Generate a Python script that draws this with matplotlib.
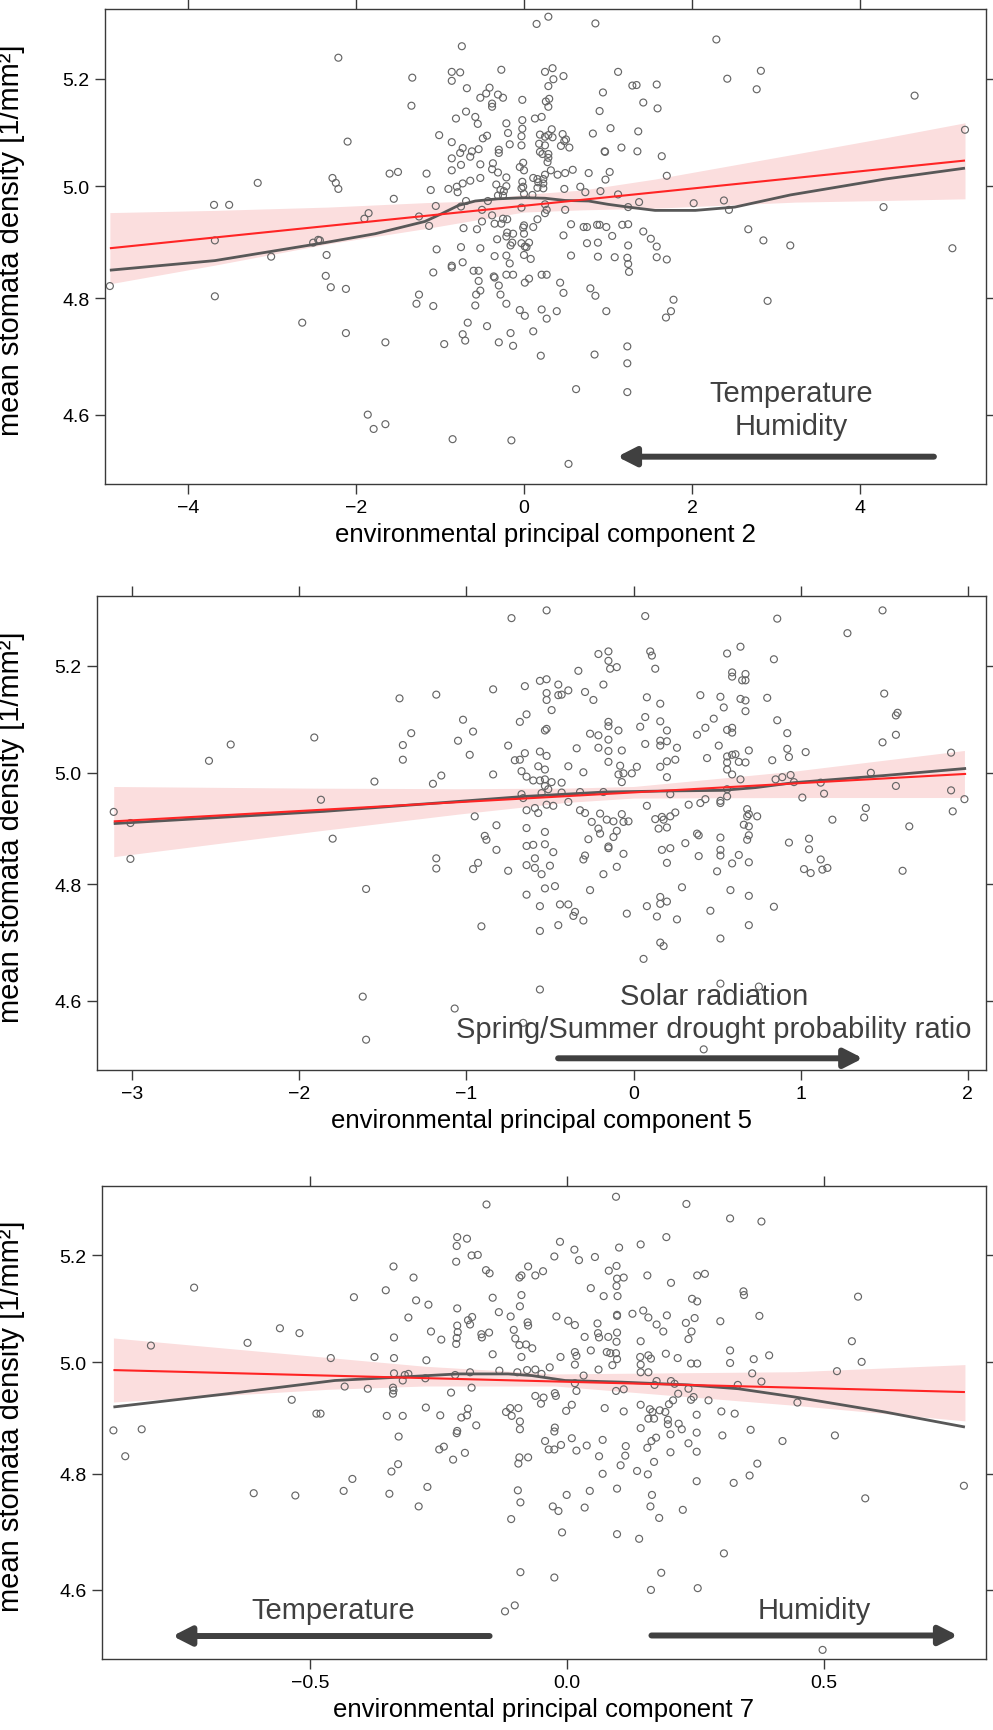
import numpy as np
import matplotlib
matplotlib.use("Agg")
import matplotlib.pyplot as plt
from matplotlib.ticker import FixedLocator, FixedFormatter, NullLocator

plt.rcParams['font.family'] = ['Liberation Sans', 'DejaVu Sans']

# ---------------------------------------------------------------- data
# environmental PC 2 : (score, mean stomata density)
pc2_points = [
    (-4.93, 4.821), (-3.69, 4.966), (-3.51, 4.966), (-3.68, 4.902), (-3.68, 4.803),
    (-3.17, 5.006), (-3.01, 4.873), (-2.64, 4.757), (-2.51, 4.898), (-2.45, 4.903),
    (-2.43, 4.902), (-2.35, 4.876), (-2.36, 4.839), (-2.30, 4.819), (-2.21, 5.240),
    (-2.10, 5.082), (-2.28, 5.015), (-2.24, 5.006), (-2.21, 4.995), (-2.12, 4.816),
    (-2.12, 4.739), (-1.90, 4.941), (-1.85, 4.951), (-1.65, 4.723), (-1.86, 4.600),
    (-1.79, 4.576), (-1.65, 4.584), (-1.60, 5.023), (-1.50, 5.026), (-1.55, 4.977),
    (-1.33, 5.202), (-1.34, 5.149), (-1.16, 5.023), (-1.11, 4.993), (-1.25, 4.945),
    (-1.13, 4.928), (-1.05, 4.964), (-1.04, 4.886), (-1.08, 4.845), (-1.25, 4.806),
    (-1.28, 4.790), (-1.08, 4.786), (-0.95, 4.720), (-1.01, 5.094), (-0.86, 5.213),
    (-0.86, 5.196), (-0.76, 5.212), (-0.74, 5.262), (-0.68, 5.182), (-0.81, 5.125),
    (-0.69, 5.138), (-0.86, 5.081), (-0.76, 5.061), (-0.73, 5.070), (-0.86, 5.051),
    (-0.75, 5.039), (-0.86, 5.029), (-0.90, 4.995), (-0.80, 4.999), (-0.79, 4.989),
    (-0.73, 5.005), (-0.64, 5.010), (-0.69, 4.973), (-0.75, 4.963), (-0.72, 4.924),
    (-0.75, 4.890), (-0.73, 4.863), (-0.86, 4.857), (-0.86, 4.854), (-0.67, 4.757),
    (-0.73, 4.737), (-0.70, 4.726), (-0.85, 4.559), (-0.58, 5.128), (-0.55, 5.115),
    (-0.62, 5.064), (-0.64, 5.054), (-0.54, 5.068), (-0.52, 5.164), (-0.45, 5.172),
    (-0.41, 5.183), (-0.38, 5.153), (-0.38, 5.147), (-0.31, 5.170), (-0.25, 5.164),
    (-0.27, 5.217), (-0.49, 5.088), (-0.44, 5.093), (-0.52, 5.040), (-0.52, 5.015),
    (-0.37, 5.042), (-0.38, 5.031), (-0.31, 5.025), (-0.30, 5.067), (-0.30, 5.061),
    (-0.33, 5.003), (-0.28, 4.993), (-0.21, 5.016), (-0.21, 5.000), (-0.31, 4.983),
    (-0.25, 4.983), (-0.24, 4.991), (-0.43, 4.973), (-0.50, 4.957), (-0.38, 4.947),
    (-0.50, 4.936), (-0.56, 4.922), (-0.35, 4.932), (-0.27, 4.932), (-0.25, 4.941),
    (-0.20, 4.940), (-0.52, 4.888), (-0.32, 4.904), (-0.35, 4.874), (-0.20, 4.916),
    (-0.21, 4.909), (-0.16, 4.893), (-0.14, 4.898), (-0.13, 4.914), (-0.21, 4.875),
    (-0.17, 4.861), (-0.60, 4.848), (-0.54, 4.848), (-0.54, 4.830), (-0.52, 4.813),
    (-0.57, 4.806), (-0.58, 4.787), (-0.36, 4.838), (-0.35, 4.836), (-0.30, 4.822),
    (-0.28, 4.806), (-0.21, 4.841), (-0.13, 4.841), (-0.21, 4.790), (-0.44, 4.751),
    (-0.30, 4.723), (-0.16, 4.739), (-0.13, 4.717), (-0.15, 4.557), (-0.21, 5.116),
    (-0.19, 5.098), (-0.17, 5.077), (-0.02, 5.160), (-0.02, 5.122), (-0.02, 5.106),
    (-0.03, 5.092), (-0.03, 5.075), (-0.01, 5.043), (0.00, 5.029), (-0.05, 5.035),
    (-0.02, 5.008), (-0.01, 4.999), (-0.03, 4.996), (0.00, 4.986), (-0.03, 4.961),
    (0.00, 4.929), (-0.01, 4.925), (0.00, 4.914), (-0.03, 4.897), (0.01, 4.891),
    (0.03, 4.890), (0.06, 4.898), (0.00, 4.876), (0.08, 4.869), (0.01, 4.827),
    (0.06, 4.834), (-0.05, 4.779), (0.01, 4.769), (0.11, 4.742), (0.11, 4.926),
    (0.16, 4.940), (0.15, 5.305), (0.29, 5.319), (0.13, 5.125), (0.21, 5.128),
    (0.19, 5.095), (0.25, 5.091), (0.29, 5.094), (0.33, 5.105), (0.34, 5.090),
    (0.18, 5.078), (0.25, 5.075), (0.19, 5.063), (0.29, 5.059), (0.29, 5.052),
    (0.22, 5.059), (0.28, 5.044), (0.25, 5.213), (0.34, 5.220), (0.35, 5.199),
    (0.29, 5.186), (0.30, 5.162), (0.26, 5.157), (0.29, 5.147), (0.32, 5.029),
    (0.40, 5.021), (0.25, 5.021), (0.23, 5.013), (0.16, 5.013), (0.11, 5.015),
    (0.17, 5.007), (0.23, 5.005), (0.16, 4.997), (0.23, 4.996), (0.10, 4.984),
    (0.25, 4.967), (0.27, 4.957), (0.25, 4.951), (0.44, 5.074), (0.46, 5.096),
    (0.48, 5.083), (0.47, 5.205), (0.48, 4.995), (0.47, 4.911), (0.47, 4.809),
    (0.49, 4.957), (0.43, 4.827), (0.21, 4.841), (0.27, 4.841), (0.21, 4.780),
    (0.27, 4.764), (0.39, 4.777), (0.20, 4.700),
    (0.85, 5.306), (1.12, 5.213), (0.94, 5.174), (1.29, 5.187), (1.34, 5.188),
    (1.58, 5.189), (1.42, 5.155), (1.59, 5.144), (0.90, 5.139), (1.03, 5.107),
    (0.82, 5.097), (0.54, 5.071), (0.50, 5.086), (0.96, 5.064), (0.965, 5.063),
    (1.16, 5.071), (1.36, 5.101), (1.35, 5.064), (1.64, 5.055), (1.70, 5.019),
    (0.49, 5.024), (0.58, 5.030), (0.77, 5.024), (1.02, 5.026), (0.97, 5.012),
    (0.67, 4.999), (0.73, 4.989), (0.91, 4.991), (1.12, 4.985), (1.24, 4.962),
    (1.37, 4.971), (2.02, 4.969), (2.38, 4.974), (2.44, 4.957), (0.56, 4.931),
    (0.71, 4.926), (0.75, 4.926), (0.87, 4.930), (0.90, 4.930), (0.98, 4.926),
    (1.17, 4.930), (1.24, 4.931), (0.75, 4.897), (0.88, 4.898), (1.05, 4.910),
    (1.42, 4.918), (1.51, 4.905), (1.58, 4.891), (1.24, 4.893), (0.56, 4.875),
    (0.88, 4.873), (1.08, 4.872), (1.23, 4.871), (1.24, 4.860), (1.25, 4.846),
    (1.58, 4.872), (1.70, 4.868), (0.79, 4.817), (0.85, 4.804), (0.98, 4.777),
    (1.78, 4.797), (1.75, 4.777), (1.69, 4.766), (2.67, 4.922), (2.85, 4.902),
    (3.17, 4.893), (2.90, 4.795), (2.29, 5.275), (2.42, 5.200), (2.82, 5.215),
    (2.77, 5.180), (0.84, 4.702), (1.23, 4.716), (1.23, 4.687), (0.62, 4.643),
    (1.23, 4.638), (0.53, 4.518),
    (4.65, 5.168), (5.25, 5.104), (4.28, 4.962), (5.10, 4.888),
]

# environmental PC 5
pc5_points = [
    (-3.11, 4.929), (-3.01, 4.909), (-3.01, 4.845), (-2.54, 5.022), (-2.41, 5.052),
    (-1.91, 5.065), (-1.87, 4.951), (-1.80, 4.881), (-1.60, 4.792), (-1.62, 4.607),
    (-1.60, 4.535), (-1.55, 4.984), (-1.40, 5.138), (-1.33, 5.073), (-1.38, 5.051),
    (-1.38, 5.024), (-1.18, 5.145), (-1.20, 4.980), (-1.15, 4.995), (-1.18, 4.846),
    (-1.18, 4.828), (-1.07, 4.587), (-1.02, 5.098), (-0.96, 5.076), (-1.05, 5.059),
    (-0.98, 5.033), (-0.84, 5.155), (-0.73, 5.291), (-0.52, 5.306), (-0.84, 4.997),
    (-0.95, 4.921), (-0.82, 4.905), (-0.89, 4.886), (-0.88, 4.879), (-0.82, 4.861),
    (-0.96, 4.827), (-0.93, 4.838), (-0.75, 4.824), (-0.91, 4.727), (-0.75, 5.050),
    (-0.71, 5.023), (-0.68, 5.024), (-0.68, 5.094), (-0.64, 5.108), (-0.65, 5.161),
    (-0.56, 5.171), (-0.52, 5.174), (-0.52, 5.148), (-0.52, 5.135), (-0.49, 5.116),
    (-0.53, 5.078), (-0.52, 5.081), (-0.65, 5.036), (-0.56, 5.039), (-0.52, 5.031),
    (-0.53, 5.006), (-0.57, 5.012), (-0.67, 5.003), (-0.64, 4.993), (-0.60, 4.986),
    (-0.56, 4.986), (-0.53, 4.988), (-0.53, 4.976), (-0.49, 4.983), (-0.51, 4.970),
    (-0.67, 4.961), (-0.66, 4.954), (-0.55, 4.963), (-0.64, 4.932), (-0.59, 4.936),
    (-0.57, 4.927), (-0.52, 4.942), (-0.48, 4.940), (-0.64, 4.900), (-0.53, 4.893),
    (-0.64, 4.868), (-0.60, 4.870), (-0.53, 4.871), (-0.48, 4.857), (-0.59, 4.846),
    (-0.64, 4.834), (-0.59, 4.829), (-0.55, 4.818), (-0.50, 4.833), (-0.53, 4.793),
    (-0.64, 4.782), (-0.56, 4.762), (-0.56, 4.719), (-0.56, 4.619), (-0.66, 4.563),
    (-0.47, 4.797),
    (0.07, 5.295), (0.86, 5.290), (-0.21, 5.222), (-0.15, 5.227), (-0.15, 5.209),
    (-0.14, 5.194), (-0.10, 5.197), (0.10, 5.227), (0.11, 5.219), (0.13, 5.194),
    (-0.33, 5.190), (-0.18, 5.164), (-0.45, 5.164), (-0.45, 5.144), (-0.43, 5.145),
    (-0.39, 5.153), (-0.29, 5.150), (-0.24, 5.135), (0.08, 5.140), (0.16, 5.128),
    (0.56, 5.223), (0.64, 5.236), (0.84, 5.212), (0.59, 5.187), (0.59, 5.179),
    (0.65, 5.172), (0.67, 5.172), (0.67, 5.184), (0.40, 5.144), (0.52, 5.141),
    (0.54, 5.121), (0.64, 5.137), (0.67, 5.134), (0.67, 5.114), (0.80, 5.139),
    (0.86, 5.097), (0.07, 5.103), (0.04, 5.085), (0.16, 5.095), (0.20, 5.078),
    (-0.15, 5.094), (-0.15, 5.086), (-0.09, 5.078), (-0.15, 5.061), (-0.21, 5.069),
    (-0.26, 5.072), (-0.34, 5.045), (-0.21, 5.046), (-0.15, 5.040), (-0.07, 5.041),
    (-0.15, 5.020), (-0.39, 5.012), (-0.30, 5.001), (-0.08, 5.013), (-0.09, 4.997),
    (-0.06, 4.999), (-0.07, 4.983), (-0.01, 4.999), (0.02, 5.011), (-0.43, 4.982),
    (-0.43, 4.964), (-0.39, 4.947), (-0.32, 4.965), (-0.18, 4.965), (0.07, 5.053),
    (0.16, 5.059), (0.16, 5.050), (0.20, 5.058), (0.26, 5.046), (0.16, 5.011),
    (0.20, 5.021), (0.25, 5.024), (0.20, 4.992), (0.22, 4.961), (0.08, 4.940),
    (0.38, 5.070), (0.43, 5.083), (0.48, 5.100), (0.44, 5.027), (0.51, 5.050),
    (0.56, 5.079), (0.59, 5.083), (0.59, 5.074), (0.56, 5.030), (0.56, 5.019),
    (0.59, 5.033), (0.61, 5.034), (0.63, 5.020), (0.67, 5.019), (0.69, 5.041),
    (0.56, 5.006), (0.59, 4.997), (0.64, 4.988), (0.83, 5.023), (0.92, 5.073),
    (0.92, 5.044), (0.93, 5.029), (0.85, 4.988), (0.89, 4.992), (0.94, 4.996),
    (0.56, 4.970), (0.56, 4.957), (0.52, 4.949), (0.52, 4.945), (0.43, 4.952),
    (0.40, 4.945), (0.33, 4.942), (-0.32, 4.932), (-0.29, 4.927), (-0.20, 4.926),
    (-0.16, 4.915), (-0.12, 4.912), (-0.25, 4.911), (-0.07, 4.925), (-0.06, 4.911),
    (-0.03, 4.912), (-0.21, 4.899), (-0.20, 4.890), (-0.10, 4.895), (-0.12, 4.884),
    (-0.27, 4.880), (-0.15, 4.867), (-0.15, 4.864), (-0.29, 4.851), (-0.30, 4.844),
    (-0.06, 4.854), (-0.18, 4.818), (-0.10, 4.831), (-0.26, 4.790), (-0.44, 4.765),
    (-0.39, 4.765), (-0.36, 4.745), (-0.35, 4.752), (-0.30, 4.737), (-0.45, 4.729),
    (-0.04, 4.749), (0.17, 4.920), (0.15, 4.899), (0.18, 4.915), (0.22, 4.921),
    (0.25, 4.928), (0.20, 4.901), (0.13, 4.916), (0.17, 4.861), (0.22, 4.864),
    (0.20, 4.838), (0.31, 4.873), (0.38, 4.890), (0.39, 4.887), (0.39, 4.850),
    (0.52, 4.883), (0.52, 4.861), (0.52, 4.851), (0.59, 4.837), (0.63, 4.852),
    (0.50, 4.823), (0.66, 4.906), (0.68, 4.934), (0.69, 4.925), (0.68, 4.921),
    (0.74, 4.921), (0.69, 4.903), (0.69, 4.887), (0.68, 4.879), (0.93, 4.874),
    (0.69, 4.839), (0.08, 4.762), (0.16, 4.778), (0.16, 4.766), (0.20, 4.770),
    (0.14, 4.744), (0.26, 4.739), (0.29, 4.795), (0.58, 4.790), (0.69, 4.780),
    (0.69, 4.729), (0.46, 4.754), (0.84, 4.761), (0.52, 4.706), (0.16, 4.699),
    (0.18, 4.693), (0.06, 4.671), (0.52, 4.629), (0.75, 4.624), (0.42, 4.519),
    (1.49, 5.306), (1.28, 5.262), (1.50, 5.147), (1.58, 5.111), (1.57, 5.106),
    (1.57, 5.070), (1.49, 5.056), (1.03, 5.038), (1.90, 5.037), (0.96, 4.983),
    (1.12, 4.982), (1.14, 4.962), (1.01, 4.955), (1.42, 5.000), (1.57, 4.976),
    (1.90, 4.968), (1.91, 4.930), (1.98, 4.952), (1.39, 4.936), (1.38, 4.919),
    (1.19, 4.915), (1.65, 4.903), (1.05, 4.881), (1.05, 4.862), (1.12, 4.844),
    (1.02, 4.827), (1.06, 4.820), (1.13, 4.826), (1.16, 4.829), (1.61, 4.824),
]

# environmental PC 7
pc7_points = [
    (-0.883, 4.877), (-0.860, 4.831), (-0.828, 4.879), (-0.810, 5.031), (-0.726, 5.139),
    (-0.622, 5.036), (-0.610, 4.766), (-0.559, 5.063), (-0.521, 5.054), (-0.536, 4.932),
    (-0.529, 4.762), (-0.488, 4.907), (-0.480, 4.907), (-0.460, 5.008), (-0.415, 5.121),
    (-0.375, 5.010), (-0.433, 4.956), (-0.388, 4.952), (-0.435, 4.770), (-0.418, 4.791),
    (-0.353, 5.134), (-0.338, 5.179), (-0.299, 5.158), (-0.309, 5.083), (-0.294, 5.115),
    (-0.270, 5.107), (-0.337, 5.046), (-0.337, 5.008), (-0.337, 4.980), (-0.316, 4.977),
    (-0.309, 4.979), (-0.320, 4.967), (-0.339, 4.954), (-0.338, 4.949), (-0.339, 4.943),
    (-0.351, 4.903), (-0.320, 4.903), (-0.328, 4.866), (-0.342, 4.804), (-0.329, 4.817),
    (-0.346, 4.765), (-0.289, 4.743), (-0.272, 4.777), (-0.275, 4.918), (-0.247, 4.904),
    (-0.274, 5.004), (-0.276, 4.971), (-0.265, 5.057), (-0.245, 5.042), (-0.249, 4.843),
    (-0.240, 4.848), (-0.222, 4.825), (-0.226, 4.945), (-0.215, 4.872), (-0.214, 4.876),
    (-0.199, 4.837), (-0.206, 4.900), (-0.195, 4.904), (-0.193, 4.916), (-0.177, 4.886),
    (-0.186, 4.954), (-0.218, 4.977), (-0.189, 4.982), (-0.214, 5.235), (-0.215, 5.218),
    (-0.195, 5.232), (-0.216, 5.188), (-0.186, 5.200), (-0.174, 5.201), (-0.157, 5.298),
    (-0.158, 5.172), (-0.151, 5.166), (-0.145, 5.120), (-0.214, 5.100), (-0.193, 5.078),
    (-0.189, 5.070), (-0.185, 5.084), (-0.214, 5.068), (-0.213, 5.056), (-0.215, 5.045),
    (-0.216, 5.034), (-0.167, 5.052), (-0.166, 5.046), (-0.152, 5.055), (-0.133, 5.093),
    (-0.145, 5.015), (-0.132, 4.985), (-0.097, 4.982), (-0.078, 4.986), (-0.062, 4.987),
    (-0.050, 4.979), (-0.110, 5.085), (-0.104, 5.060), (-0.101, 5.044), (-0.093, 5.032),
    (-0.080, 5.033), (-0.068, 5.026), (-0.089, 5.010), (-0.092, 5.104), (-0.089, 5.125),
    (-0.093, 5.158), (-0.089, 5.162), (-0.076, 5.179), (-0.062, 5.162), (-0.047, 5.170),
    (-0.077, 5.074), (-0.076, 5.068), (-0.025, 5.198), (-0.014, 5.226), (-0.021, 5.085),
    (-0.013, 5.010), (-0.034, 4.991), (-0.062, 4.939), (-0.046, 4.936), (-0.051, 4.925),
    (-0.024, 4.944), (-0.022, 4.939), (-0.111, 4.917), (-0.119, 4.910), (-0.108, 4.903),
    (-0.095, 4.917), (-0.092, 4.893), (-0.092, 4.879), (-0.024, 4.882), (-0.025, 4.875),
    (-0.043, 4.858), (-0.036, 4.843), (-0.025, 4.843), (-0.012, 4.851), (-0.093, 4.829),
    (-0.095, 4.818), (-0.076, 4.829), (-0.096, 4.771), (-0.091, 4.750), (-0.109, 4.721),
    (-0.028, 4.743), (-0.017, 4.735), (-0.010, 4.698), (-0.091, 4.630), (-0.025, 4.621),
    (-0.121, 4.564), (-0.102, 4.574),
    (0.095, 5.313), (0.232, 5.299), (0.317, 5.271), (0.378, 5.265), (0.014, 5.211),
    (0.023, 5.191), (0.054, 5.197), (0.101, 5.215), (0.096, 5.180), (0.081, 5.171),
    (0.097, 5.156), (0.110, 5.158), (0.096, 5.142), (0.098, 5.123), (0.071, 5.123),
    (0.046, 5.138), (0.143, 5.221), (0.193, 5.235), (0.156, 5.162), (0.202, 5.148),
    (0.253, 5.162), (0.268, 5.165), (0.243, 5.118), (0.253, 5.113), (0.343, 5.132),
    (0.344, 5.125), (0.374, 5.086), (0.298, 5.076), (0.002, 5.077), (0.015, 5.069),
    (0.059, 5.072), (0.097, 5.088), (0.097, 5.086), (0.127, 5.090), (0.148, 5.096),
    (0.158, 5.083), (0.174, 5.070), (0.187, 5.057), (0.194, 5.087), (0.231, 5.073),
    (0.248, 5.082), (0.242, 5.057), (0.236, 5.043), (0.034, 5.047), (0.060, 5.054),
    (0.062, 5.046), (0.080, 5.047), (0.097, 5.055), (0.096, 5.038), (0.143, 5.039),
    (0.015, 5.019), (0.018, 5.012), (0.015, 4.996), (0.046, 5.022), (0.077, 5.019),
    (0.084, 5.017), (0.095, 5.017), (0.097, 5.006), (0.088, 4.995), (0.061, 4.987),
    (0.142, 5.010), (0.143, 4.996), (0.158, 5.013), (0.163, 5.007), (0.143, 4.982),
    (0.158, 4.982), (0.192, 5.016), (0.215, 5.008), (0.241, 4.998), (0.253, 4.998),
    (0.317, 5.022), (0.317, 4.999), (0.363, 5.006), (0.393, 5.013), (0.032, 4.976),
    (0.015, 4.962), (0.018, 4.948), (0.095, 4.948), (0.110, 4.951), (0.174, 4.966),
    (0.170, 4.959), (0.202, 4.966), (0.209, 4.961), (0.216, 4.943), (0.236, 4.952),
    (0.241, 4.932), (0.246, 4.937), (0.275, 4.931), (0.332, 4.959), (0.360, 4.980),
    (0.378, 4.965), (0.009, 4.923), (-0.002, 4.912), (0.073, 4.917), (0.110, 4.911),
    (0.143, 4.923), (0.161, 4.915), (0.166, 4.910), (0.180, 4.913), (0.191, 4.910),
    (0.198, 4.924), (0.206, 4.931), (0.158, 4.898), (0.169, 4.898), (0.196, 4.896),
    (0.196, 4.888), (0.217, 4.889), (0.223, 4.879), (0.143, 4.881), (0.252, 4.905),
    (0.252, 4.873), (0.252, 4.839), (0.236, 4.854), (0.300, 4.911), (0.326, 4.907),
    (0.302, 4.868), (0.357, 4.878), (0.419, 4.858), (0.009, 4.863), (0.018, 4.841),
    (0.038, 4.850), (0.062, 4.831), (0.069, 4.860), (0.114, 4.849), (0.113, 4.832),
    (0.104, 4.815), (0.069, 4.800), (0.136, 4.805), (0.157, 4.799), (0.156, 4.846),
    (0.164, 4.858), (0.173, 4.864), (0.169, 4.821), (0.201, 4.870), (0.201, 4.838),
    (0.252, 4.787), (0.324, 4.784), (0.355, 4.797), (0.370, 4.818), (0.044, 4.770),
    (-0.001, 4.763), (0.034, 4.741), (0.097, 4.774), (0.165, 4.763), (0.162, 4.743),
    (0.179, 4.723), (0.225, 4.737), (0.097, 4.695), (0.140, 4.687), (0.305, 4.662),
    (0.183, 4.629), (0.163, 4.600), (0.254, 4.603),
    (0.566, 5.122), (0.554, 5.039), (0.573, 5.001), (0.525, 4.984), (0.448, 4.927),
    (0.521, 4.868), (0.580, 4.757), (0.772, 4.779), (0.497, 4.500),
]

# linear fit (log density) end points
pc2_fit_x, pc2_fit_y = [-4.93, 5.25], [4.888, 5.047]
pc5_fit_x, pc5_fit_y = [-3.11, 1.99], [4.912, 4.998]
pc7_fit_x, pc7_fit_y = [-0.883, 0.774], [4.986, 4.946]

# 95% confidence band of the linear fit
pc2_band_x = [-4.93, -3.68, -2.33, -1.18, -0.60, 0.00, 0.70, 1.56, 3.23, 4.30, 5.25]
pc2_band_lo = [4.825, 4.858, 4.896, 4.923, 4.938, 4.953, 4.957, 4.960, 4.971, 4.974, 4.977]
pc2_band_hi = [4.952, 4.956, 4.962, 4.970, 4.973, 4.985, 4.993, 5.013, 5.059, 5.089, 5.117]
pc5_band_x = [-3.11, -1.91, -1.05, -0.41, 0.00, 0.96, 1.98]
pc5_band_lo = [4.849, 4.894, 4.925, 4.946, 4.954, 4.955, 4.955]
pc5_band_hi = [4.975, 4.972, 4.971, 4.972, 4.975, 5.003, 5.041]
pc7_band_x = [-0.883, -0.465, -0.277, -0.024, 0.443, 0.774]
pc7_band_lo = [4.928, 4.951, 4.957, 4.957, 4.922, 4.894]
pc7_band_hi = [5.045, 5.009, 4.993, 4.979, 4.983, 4.996]

# smoother
pc2_smooth_x = [-4.93, -3.68, -2.37, -1.77, -1.18, -0.98, -0.78, -0.58, -0.31, 0.01,
                0.25, 0.49, 0.77, 1.00, 1.24, 1.56, 2.04, 2.51, 3.17, 4.30, 5.25]
pc2_smooth_y = [4.849, 4.866, 4.898, 4.914, 4.936, 4.950, 4.965, 4.973, 4.977, 4.979,
                4.978, 4.974, 4.973, 4.967, 4.962, 4.956, 4.956, 4.962, 4.984, 5.013, 5.033]
pc5_smooth_x = [-3.11, -1.85, -1.13, -0.65, -0.47, -0.17, 0.23, 0.53, 0.73, 0.96, 1.50, 1.99]
pc5_smooth_y = [4.908, 4.930, 4.946, 4.957, 4.960, 4.965, 4.967, 4.968, 4.973, 4.982, 4.995, 5.008]
pc7_smooth_x = [-0.883, -0.660, -0.452, -0.309, -0.212, -0.115, -0.069, -0.004, 0.106,
                0.235, 0.333, 0.443, 0.618, 0.774]
pc7_smooth_y = [4.919, 4.943, 4.967, 4.974, 4.979, 4.979, 4.976, 4.967, 4.964,
                4.959, 4.952, 4.937, 4.910, 4.883]

pc2_ticks = [-4, -2, 0, 2, 4]
pc5_ticks = [-3, -2, -1, 0, 1, 2]
pc7_ticks = [-0.5, 0.0, 0.5]
pc7_ticklabels = ["\u22120.5", "0.0", "0.5"]
density_ticks = [4.6, 4.8, 5.0, 5.2]
density_ticklabels = ["4.6", "4.8", "5.0", "5.2"]

# ---------------------------------------------------------------- style
POINT = "#666666"
FIT = "#ff2424"
BAND = "#fbdede"
SMOOTH = "#585858"
ANNOT = "#404040"
FRAME = "#3a3a3a"

W, H = 993, 1731
fig = plt.figure(figsize=(W / 100, H / 100), dpi=100)

# frame edges in pixels: left, right, top, bottom
panel_specs = [
    dict(frame=(105, 986, 10, 485), pts=pc2_points, xlim=(-4.988, 5.50),
         ticks=pc2_ticks, labels=None,
         fit=(pc2_fit_x, pc2_fit_y), band=(pc2_band_x, pc2_band_lo, pc2_band_hi),
         smooth=(pc2_smooth_x, pc2_smooth_y),
         xlabel="environmental principal component 2"),
    dict(frame=(97, 986, 597, 1071), pts=pc5_points, xlim=(-3.210, 2.109),
         ticks=pc5_ticks, labels=None,
         fit=(pc5_fit_x, pc5_fit_y), band=(pc5_band_x, pc5_band_lo, pc5_band_hi),
         smooth=(pc5_smooth_x, pc5_smooth_y),
         xlabel="environmental principal component 5"),
    dict(frame=(101.6, 986, 1187, 1660), pts=pc7_points, xlim=(-0.906, 0.815),
         ticks=pc7_ticks, labels=pc7_ticklabels,
         fit=(pc7_fit_x, pc7_fit_y), band=(pc7_band_x, pc7_band_lo, pc7_band_hi),
         smooth=(pc7_smooth_x, pc7_smooth_y),
         xlabel="environmental principal component 7"),
]

axes = []
for spec in panel_specs:
    l, r, t, b = spec["frame"]
    ax = fig.add_axes([l / W, 1 - b / H, (r - l) / W, (b - t) / H])
    axes.append(ax)
    px, py = map(np.array, zip(*spec["pts"]))
    bx, blo, bhi = spec["band"]
    ax.fill_between(bx, blo, bhi, color=BAND, lw=0, zorder=1)
    ax.scatter(px, py, s=25, facecolors="none", edgecolors=POINT,
               linewidths=0.85, zorder=2)
    ax.plot(*spec["smooth"], color=SMOOTH, lw=2.0, zorder=3,
            solid_capstyle="butt", solid_joinstyle="round")
    ax.plot(*spec["fit"], color=FIT, lw=1.5, zorder=4, solid_capstyle="butt")

    ax.set_yscale("log")
    ax.set_ylim(4.485, 5.334)
    ax.set_xlim(*spec["xlim"])
    ax.yaxis.set_major_locator(FixedLocator(density_ticks))
    ax.yaxis.set_major_formatter(FixedFormatter(density_ticklabels))
    ax.yaxis.set_minor_locator(NullLocator())
    ax.set_xticks(spec["ticks"])
    if spec["labels"] is not None:
        ax.set_xticklabels(spec["labels"])
    ax.tick_params(axis="both", which="major", direction="out", length=7,
                   width=1, color=FRAME, labelsize=14, pad=4,
                   top=True, right=True, labeltop=False, labelright=False)
    for sp in ax.spines.values():
        sp.set_color(FRAME)
        sp.set_linewidth(1.0)

    ax.set_xlabel(spec["xlabel"], fontsize=18.5, labelpad=4)
    ax.set_ylabel("mean stomata density [1/mm\u00b2]", fontsize=21)
    ax.yaxis.set_label_coords((25 - l) / (r - l), 0.515)


def arrow(ax, x0, x1, y):
    ax.annotate("", xy=(x1, y), xytext=(x0, y),
                xycoords=("data", "axes fraction"),
                textcoords=("data", "axes fraction"),
                arrowprops=dict(arrowstyle="-|>,head_length=0.55,head_width=0.28",
                                lw=4.3, color=ANNOT, shrinkA=0, shrinkB=0,
                                mutation_scale=20))


def note(ax, x, y, s):
    ax.text(x, y, s, fontsize=21, color=ANNOT, ha="center", va="center",
            transform=ax.get_xaxis_transform())


ax1, ax2, ax3 = axes

note(ax1, 3.18, 0.192, "Temperature")
note(ax1, 3.18, 0.122, "Humidity")
arrow(ax1, 4.88, 1.11, 0.0575)

note(ax2, 0.48, 0.156, "Solar radiation")
note(ax2, 0.48, 0.0855, "Spring/Summer drought probability ratio")
arrow(ax2, -0.451, 1.373, 0.0247)

note(ax3, -0.455, 0.104, "Temperature")
arrow(ax3, -0.151, -0.768, 0.0486)
note(ax3, 0.480, 0.104, "Humidity")
arrow(ax3, 0.164, 0.760, 0.0497)

fig.savefig("out.png", dpi=100)
